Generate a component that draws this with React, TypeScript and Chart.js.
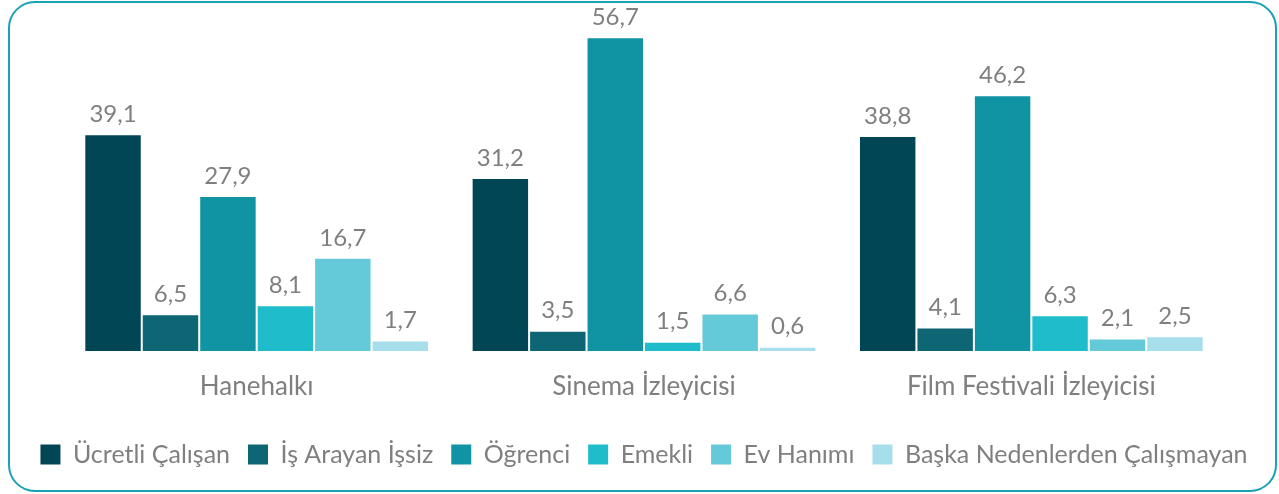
import React, { useEffect, useRef } from "react";
import { Chart, registerables } from "chart.js";

Chart.register(...registerables);

const categories = ["Hanehalkı", "Sinema İzleyicisi", "Film Festivali İzleyicisi"];
const seriesNames = ["Ücretli Çalışan", "İş Arayan İşsiz", "Öğrenci", "Emekli", "Ev Hanımı", "Başka Nedenlerden Çalışmayan"];
const ucretli = [39.1, 31.2, 38.8];
const isArayan = [6.5, 3.5, 4.1];
const ogrenci = [27.9, 56.7, 46.2];
const emekli = [8.1, 1.5, 6.3];
const evHanimi = [16.7, 6.6, 2.1];
const baska = [1.7, 0.6, 2.5];
const seriesValues = [ucretli, isArayan, ogrenci, emekli, evHanimi, baska];
const colors = ["#004654", "#0E6573", "#1093A2", "#1FBDCC", "#64C9D8", "#A6DEEC"];

const FONT = "Lato";
const GRAY = "#7F7F7F";

const valueLabels = {
  id: "valueLabels",
  afterDatasetsDraw(chart: any) {
    const ctx = chart.ctx;
    ctx.save();
    ctx.font = `24px ${FONT}`;
    ctx.fillStyle = GRAY;
    ctx.textAlign = "center";
    ctx.textBaseline = "bottom";
    chart.data.datasets.forEach((ds: any, i: number) => {
      const meta = chart.getDatasetMeta(i);
      meta.data.forEach((bar: any, j: number) => {
        const v = ds.data[j] as number;
        ctx.fillText(v.toFixed(1).replace(".", ","), bar.x, bar.y - 9);
      });
    });
    ctx.restore();
  },
};

export default function App() {
  const ref = useRef<HTMLCanvasElement>(null);
  useEffect(() => {
    document.body.style.margin = "0";
    const chart = new Chart(ref.current!, {
      type: "bar",
      data: {
        labels: categories,
        datasets: seriesNames.map((name, i) => ({
          label: name,
          data: seriesValues[i],
          backgroundColor: colors[i],
          borderWidth: 0,
          barPercentage: 0.965,
          categoryPercentage: 0.89,
        })),
      },
      options: {
        animation: false,
        responsive: false,
        maintainAspectRatio: false,
        layout: { padding: { left: 9, right: 0, top: 20, bottom: 17 } },
        scales: {
          x: {
            grid: { display: false },
            border: { display: false },
            ticks: { color: GRAY, font: { family: FONT, size: 26 }, padding: 12 },
            afterFit: (s: any) => {
              s.height = 73;
            },
          },
          y: {
            display: true,
            min: 0,
            max: 60,
            grid: { display: false },
            border: { display: false },
            ticks: { display: false },
            afterFit: (s: any) => {
              s.width = 54;
            },
          },
          yRight: {
            display: true,
            position: "right",
            grid: { display: false },
            border: { display: false },
            ticks: { display: false },
            afterFit: (s: any) => {
              s.width = 54;
            },
          },
        },
        plugins: {
          tooltip: { enabled: false },
          legend: {
            position: "bottom",
            labels: {
              color: GRAY,
              font: { family: FONT, size: 25 },
              boxWidth: 20,
              boxHeight: 20,
              padding: 18,
            },
          },
        },
      },
      plugins: [valueLabels],
    });
    return () => chart.destroy();
  }, []);
  return (
    <div style={{ position: "fixed", left: 0, top: 0, width: 1279, height: 494, background: "#fff" }}>
      <div
        style={{
          position: "absolute",
          left: 8,
          top: 1,
          width: 1269,
          height: 491,
          boxSizing: "border-box",
          border: "2.5px solid #19A2B3",
          borderRadius: 27,
        }}
      />
      <canvas ref={ref} width={1279} height={494} style={{ position: "absolute", left: 0, top: 0 }} />
    </div>
  );
}
